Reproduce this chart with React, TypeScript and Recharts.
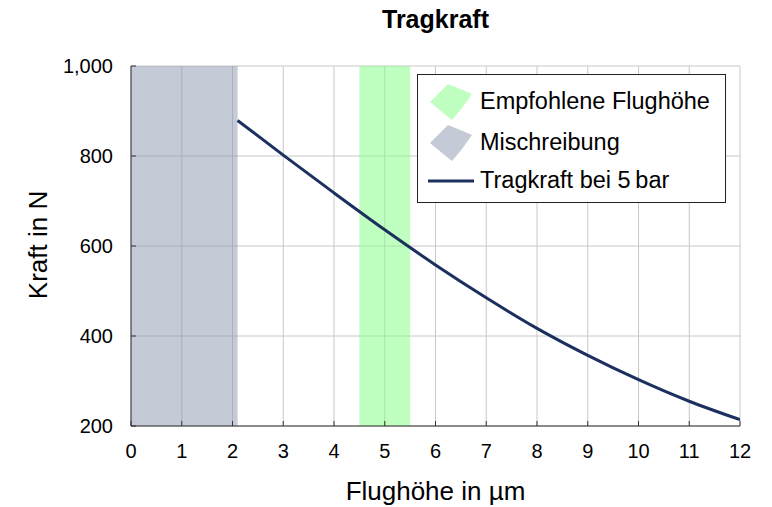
import React from "react";
import {
  ComposedChart,
  Line,
  XAxis,
  YAxis,
  CartesianGrid,
  ReferenceArea,
} from "recharts";

// Flughöhe (µm) and Tragkraft (N)
const flughoehe = [2.1, 3, 4, 5, 6, 7, 8, 9, 10, 11, 12];
const tragkraft = [879, 802, 718, 636, 558, 485, 417, 357, 303, 255, 214];

const xTicks = [0, 1, 2, 3, 4, 5, 6, 7, 8, 9, 10, 11, 12];
const yTicks = [200, 400, 600, 800, 1000];

const mischreibung = [0, 2.1];
const empfohlen = [4.5, 5.5];

const FONT = "'Liberation Sans', Arial, Helvetica, sans-serif";
const NAVY = "#1c3060";

const chartData = flughoehe.map((x, i) => ({ x, kraft: tragkraft[i] }));

function Blob({ color }: { color: string }) {
  return (
    <svg width={46} height={40} style={{ display: "block" }}>
      <polygon
        points="2,20 20,2 30,6 44,12 34,26 24,38 14,30"
        fill={color}
      />
    </svg>
  );
}

function LegendBox() {
  const row: React.CSSProperties = {
    display: "flex",
    alignItems: "center",
    height: 39,
  };
  const label: React.CSSProperties = { marginLeft: 6, fontSize: 23.5 };
  return (
    <div
      style={{
        position: "absolute",
        left: 417,
        top: 74,
        width: 309,
        height: 129,
        border: "1px solid #222",
        background: "#fff",
        fontFamily: FONT,
        color: "#000",
        boxSizing: "border-box",
        padding: "7px 0 0 10px",
      }}
    >
      <div style={row}>
        <Blob color="#bfffbf" />
        <span style={label}>Empfohlene Flughöhe</span>
      </div>
      <div style={{ ...row, marginTop: 2 }}>
        <Blob color="#c4cbd6" />
        <span style={label}>Mischreibung</span>
      </div>
      <div style={{ ...row, height: 37 }}>
        <svg width={46} height={10} style={{ display: "block" }}>
          <line x1={0} y1={5} x2={46} y2={5} stroke={NAVY} strokeWidth={3} />
        </svg>
        <span style={label}>Tragkraft bei 5&#8201;bar</span>
      </div>
    </div>
  );
}

export default function App() {
  return (
    <div
      style={{
        position: "absolute",
        left: 0,
        top: 0,
        width: 772,
        height: 507,
        background: "#fff",
        fontFamily: FONT,
      }}
    >
      <ComposedChart
        width={772}
        height={507}
        data={chartData}
        margin={{ top: 66, right: 32, bottom: 51, left: 61 }}
        style={{ position: "absolute", left: 0, top: 0 }}
      >
        <ReferenceArea
          x1={mischreibung[0]}
          x2={mischreibung[1]}
          y1={200}
          y2={1000}
          fill="#8a97ad"
          fillOpacity={0.5}
          stroke="none"
          ifOverflow="hidden"
        />
        <ReferenceArea
          x1={empfohlen[0]}
          x2={empfohlen[1]}
          y1={200}
          y2={1000}
          fill="#80ff80"
          fillOpacity={0.5}
          stroke="none"
          ifOverflow="hidden"
        />
        <CartesianGrid stroke="#c8c8c8" strokeWidth={1} />
        <XAxis
          dataKey="x"
          type="number"
          domain={[0, 12]}
          ticks={xTicks}
          interval={0}
          height={30}
          allowDataOverflow
          stroke="#333"
          tickSize={-5}
          tickMargin={23}
          tick={{ fill: "#000", fontSize: 20, fontFamily: FONT }}
        />
        <XAxis
          xAxisId="top"
          dataKey="x"
          type="number"
          orientation="top"
          domain={[0, 12]}
          ticks={xTicks}
          interval={0}
          height={0}
          stroke="#333"
          tickSize={-5}
          tickFormatter={() => ""}
        />
        <YAxis
          type="number"
          domain={[200, 1000]}
          ticks={yTicks}
          interval={0}
          width={70}
          stroke="#333"
          tickSize={-5}
          tickMargin={23}
          tickFormatter={(v: number) => v.toLocaleString("en-US")}
          tick={{ fill: "#000", fontSize: 20, fontFamily: FONT }}
        />
        <YAxis
          yAxisId="right"
          orientation="right"
          type="number"
          domain={[200, 1000]}
          ticks={yTicks}
          interval={0}
          width={0}
          stroke="#333"
          tickSize={-5}
          tickFormatter={() => ""}
        />
        <Line
          dataKey="kraft"
          type="monotone"
          stroke={NAVY}
          strokeWidth={3}
          dot={false}
          isAnimationActive={false}
        />
      </ComposedChart>
      <div
        style={{
          position: "absolute",
          left: 131,
          width: 609,
          top: 5,
          textAlign: "center",
          fontWeight: "bold",
          fontSize: 25,
        }}
      >
        Tragkraft
      </div>
      <div
        style={{
          position: "absolute",
          left: 131,
          width: 609,
          top: 476,
          textAlign: "center",
          fontSize: 26,
        }}
      >
        Flughöhe in µm
      </div>
      <div
        style={{
          position: "absolute",
          left: 38,
          top: 245,
          transform: "translate(-50%, -50%) rotate(-90deg)",
          fontSize: 26,
          whiteSpace: "nowrap",
        }}
      >
        Kraft in N
      </div>
      <LegendBox />
    </div>
  );
}
